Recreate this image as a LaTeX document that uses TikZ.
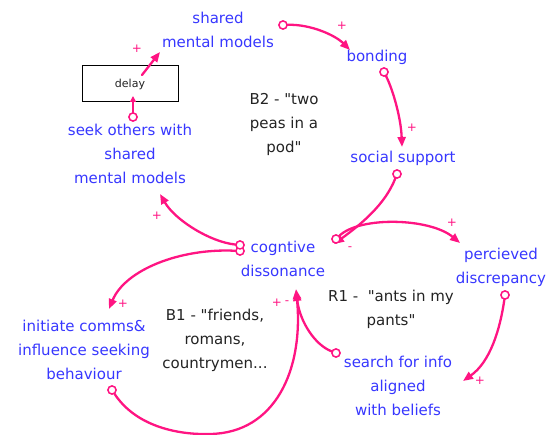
\documentclass[tikz,border=0pt]{standalone}
\usepackage{fontspec}
\setmainfont{DejaVu Sans}[Ligatures=TeXOff]
\usetikzlibrary{arrows.meta}
\definecolor{linkpink}{RGB}{255,20,130}
\definecolor{varblue}{RGB}{55,55,255}
\definecolor{loopink}{RGB}{35,35,35}

\begin{document}
\begin{tikzpicture}[x=1pt,y=-1pt,
  var/.style={text=varblue,font=\fontsize{15}{24}\selectfont,align=center,inner sep=0pt},
  looplabel/.style={text=loopink,font=\fontsize{15}{24}\selectfont,align=center,inner sep=0pt},
  link/.style={draw=linkpink,line width=2.3pt,line cap=round,-{Triangle[length=10pt,width=8pt]}},
  tailc/.style={circle,draw=linkpink,fill=white,line width=1.4pt,minimum size=8pt,inner sep=0pt},
  pol/.style={text=linkpink,font=\fontsize{12}{12}\selectfont,inner sep=0pt},
  delaybox/.style={draw=black,fill=white,line width=1pt,minimum width=96pt,minimum height=36pt,
                   text=loopink,font=\fontsize{11}{11}\selectfont}]
\useasboundingbox (0,0) rectangle (548,435);

% variables
\node[var] (sm)   at (218,30)  {shared\\mental models};
\node[var] (bond) at (377,57)  {bonding};
\node[var] (soc)  at (403,158) {social support};
\node[var] (perc) at (501,267) {percieved\\discrepancy};
\node[var] (srch) at (398,386) {search for info\\aligned\\with beliefs};
\node[var] (cog)  at (283,259) {cogntive\\dissonance};
\node[var] (init) at (84,350)  {initiate comms\&\\influence seeking\\behaviour};
\node[var] (seek) at (130,154) {seek others with\\shared\\mental models};

% loop names
\node[looplabel] (b2) at (284,124) {B2 - "two\\peas in a\\pod"};
\node[looplabel] (r1) at (391,309) {R1 -\ \ "ants in my\\pants"};
\node[looplabel] (b1) at (215,340) {B1 - "friends,\\romans,\\countrymen...};

% delay element
\node[delaybox] (delay) at (130,84) {delay};

% arrow tips
\coordinate (h1) at (350,50);
\coordinate (h2) at (402,147);
\coordinate (h3) at (334,244);
\coordinate (h4) at (460,243);
\coordinate (h5) at (463,381);
\coordinate (h6) at (296,291);
\coordinate (h7) at (296,289);
\coordinate (h8) at (109,309);
\coordinate (h9) at (160,194);
\coordinate (h10) at (133,96);
\coordinate (h11) at (160,52);
\coordinate (bot) at (210,434);

% link tails
\node[tailc] (c1) at (283,25)  {};
\node[tailc] (c2) at (384,72)  {};
\node[tailc] (c3) at (397,174) {};
\node[tailc] (c4) at (336,239) {};
\node[tailc] (c5) at (505,295) {};
\node[tailc] (c6) at (336,353) {};
\node[tailc] (c7) at (112,390) {};
\node[tailc] (c8) at (240,251) {};
\node[tailc] (c9) at (240,245) {};
\node[tailc] (c10) at (133,117) {};
\coordinate (c11) at (142,75);

% links
\draw[link] (c1) .. controls (310,24) and (335,35) .. (h1);
\draw[link] (c2) .. controls (393,90) and (401,118) .. (h2);
\draw[link] (c3) .. controls (385,205) and (360,225) .. (h3);
\draw[link] (c4) .. controls (360,216) and (430,218) .. (h4);
\draw[link] (c5) .. controls (500,330) and (490,362) .. (h5);
\draw[link] (c6) .. controls (315,345) and (300,322) .. (h6);
\draw[link] (c7) .. controls (135,425) and (175,435) .. (bot)
                 .. controls (275,433) and (304,370) .. (h7);
\draw[link] (c8) .. controls (180,248) and (125,270) .. (h8);
\draw[link] (c9) .. controls (210,242) and (175,220) .. (h9);
\draw[link,-{Triangle[length=6pt,width=6pt]}] (c10) -- (h10);
\draw[link] (c11) -- (h11);

% tail circles sit on top of the lines
\foreach \c in {c1,c2,c3,c4,c5,c6,c7,c8,c9,c10}
  \node[tailc] at (\c) {};

% polarities
\node[pol] (p1) at (342,26)  {+};
\node[pol] (p2) at (412,128) {+};
\node[pol] (p3) at (350,249) {-};
\node[pol] (p4) at (452,223) {+};
\node[pol] (p5) at (480,381) {+};
\node[pol] (p6) at (277,303) {+};
\node[pol] (p7) at (287,303) {-};
\node[pol] (p8) at (123,304) {+};
\node[pol] (p9) at (157,216) {+};
\node[pol] (p10) at (137,49) {+};
\end{tikzpicture}
\end{document}
